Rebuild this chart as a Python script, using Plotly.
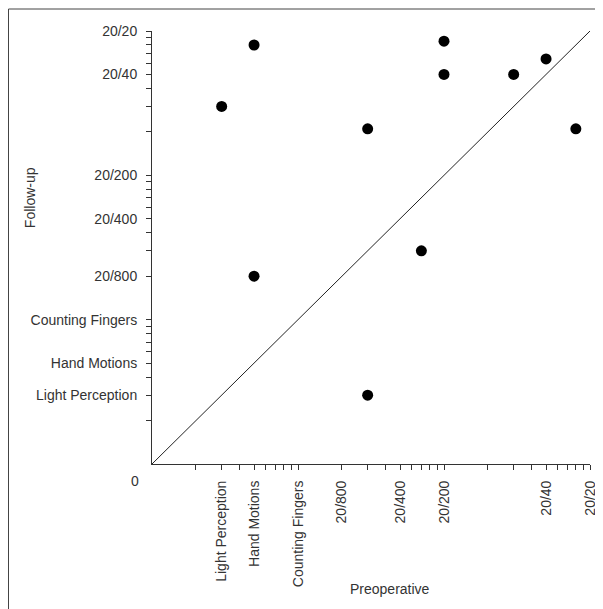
import plotly.graph_objects as go

# Visual acuity coded on a log scale (1 = "0", 1000 = 20/20)
preoperative = [3, 5, 5, 30, 30, 70, 100, 100, 300, 500, 800]
follow_up = [300, 800, 20, 210, 3, 30, 850, 500, 500, 640, 210]

identity_line = [1, 1000]

major_vals = [3, 5, 10, 20, 50, 100, 500, 1000]
major_text = ["Light Perception", "Hand Motions", "Counting Fingers",
              "20/800", "20/400", "20/200", "20/40", "20/20"]
minor_vals = [v * d for d in (1, 10, 100) for v in range(2, 10)]

tickvals = sorted(set(major_vals + minor_vals + [1000]))
ticktext = [major_text[major_vals.index(v)] if v in major_vals else "" for v in tickvals]

FONT = "Liberation Sans, Arial, sans-serif"
TXT = "#333333"

fig = go.Figure()
fig.add_trace(go.Scatter(x=identity_line, y=identity_line, mode="lines",
                         line=dict(color="#222222", width=1), hoverinfo="skip",
                         showlegend=False))
fig.add_trace(go.Scatter(x=preoperative, y=follow_up, mode="markers",
                         marker=dict(color="black", size=11), cliponaxis=False,
                         showlegend=False))

axis_common = dict(type="log", range=[0, 3], tickmode="array", tickvals=tickvals,
                   ticktext=ticktext, ticks="outside", ticklen=5, tickwidth=1,
                   tickcolor="#333333", showline=True, linecolor="#333333", linewidth=1,
                   showgrid=False, zeroline=False, automargin=False,
                   tickfont=dict(family=FONT, size=14, color=TXT))

fig.update_xaxes(**axis_common, tickangle=-90, ticklabelstandoff=5)
fig.update_yaxes(**axis_common, ticklabelstandoff=6)

fig.add_annotation(text="0", xref="paper", yref="paper", x=-0.0388, y=-0.039,
                   showarrow=False, xanchor="center", yanchor="middle",
                   font=dict(family=FONT, size=14, color=TXT))
fig.add_annotation(text="Follow-up", xref="paper", yref="paper", x=-0.2785, y=0.614,
                   showarrow=False, textangle=-90, xanchor="center", yanchor="middle",
                   font=dict(family=FONT, size=14, color=TXT))
fig.add_annotation(text="Preoperative", xref="paper", yref="paper", x=0.543, y=-0.2887,
                   showarrow=False, xanchor="center", yanchor="middle",
                   font=dict(family=FONT, size=14, color=TXT))

# figure frame (left and top edges)
fig.add_shape(type="line", xref="paper", yref="paper", x0=-0.3276, x1=-0.3276,
              y0=-0.36, y1=1.0508, line=dict(color="#444444", width=1))
fig.add_shape(type="line", xref="paper", yref="paper", x0=-0.3276, x1=1.06,
              y0=1.0508, y1=1.0508, line=dict(color="#444444", width=1))

fig.update_layout(width=603, height=609, autosize=False,
                  margin=dict(l=144, r=21, t=23, b=153),
                  plot_bgcolor="white", paper_bgcolor="white")

fig.write_html("out.html")
